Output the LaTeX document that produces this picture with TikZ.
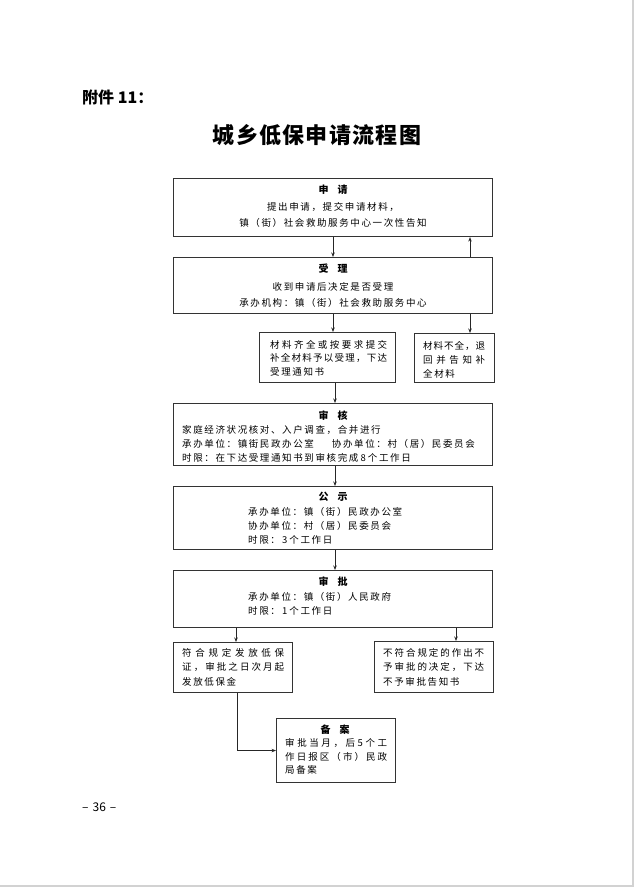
\documentclass[tikz,border=0pt]{standalone}
\usepackage{fontspec}
\setmainfont{Noto Sans CJK SC}
\usetikzlibrary{arrows.meta}
\def\gob#1{}
\def\jlloop#1#2{#1\ifx\relax#2\expandafter\gob\else\hfill\expandafter\jlloop\fi #2}
\newcommand\jl[2]{\makebox[#1pt][s]{\jlloop#2\relax}}
\newcommand\btf{\fontsize{9.5}{11}\selectfont\addfontfeature{LetterSpace=17}}
\newcommand\plf{\fontsize{9.5}{11}\selectfont}
\newcommand\hdf{\fontsize{10}{12}\selectfont\bfseries}
\newcommand\dg[1]{\makebox[9.5pt]{#1}}
\tikzset{
  box/.style={draw=black!80, line width=1.1pt, inner sep=0pt, anchor=north west},
  arr/.style={draw=black!85, line width=0.8pt, -{Stealth[length=4.5pt,width=3.5pt]}},
  tl/.style={inner sep=0pt, anchor=west, font=\btf},
  tj/.style={inner sep=0pt, anchor=west, font=\plf},
  tc/.style={inner sep=0pt, anchor=center, font=\btf},
  hd/.style={inner sep=0pt, anchor=center, font=\hdf},
}
\begin{document}
\begin{tikzpicture}[x=1pt,y=-1pt]
\fill[white] (0,0) rectangle (634,887);
\useasboundingbox (0,0) rectangle (634,887);
\fill[gray!35] (632,0) rectangle (634,887);
\fill[gray!35] (0,885) rectangle (634,887);

% header
\node[inner sep=0pt, anchor=west, font=\fontsize{16}{18}\selectfont\bfseries] (fj) at (82,97) {附件 11：};
\node[inner sep=0pt, font=\fontsize{22}{26}\selectfont\bfseries\addfontfeature{LetterSpace=6}] (tt) at (317,135) {城乡低保申请流程图};
\node[inner sep=0pt, anchor=west, font=\fontsize{12}{14}\selectfont] (pg) at (82,807) {--\hspace{4pt}36\hspace{4pt}--};

% boxes
\node[box, minimum width=319pt, minimum height=58pt] (sq) at (173,178) {};
\node[box, minimum width=319pt, minimum height=56pt] (sl) at (173,257) {};
\node[box, minimum width=136pt, minimum height=50pt] (qq) at (259,332) {};
\node[box, minimum width=80pt, minimum height=49pt] (bq) at (414,333) {};
\node[box, minimum width=319pt, minimum height=62pt] (sh) at (173,403) {};
\node[box, minimum width=319pt, minimum height=63pt] (gs) at (173,486) {};
\node[box, minimum width=319pt, minimum height=57pt] (sp) at (173,570) {};
\node[box, minimum width=119pt, minimum height=50pt] (fh) at (173,642) {};
\node[box, minimum width=119pt, minimum height=51pt] (bf) at (374,641) {};
\node[box, minimum width=119pt, minimum height=64pt] (ba) at (276,718) {};

% texts
\node[hd] (a1) at (333,190) {申\hspace{9pt}请};
\node[tc] (a2) at (333,207) {提出申请，提交申请材料，};
\node[tc] (a3) at (333,223) {镇（街）社会救助服务中心一次性告知};

\node[hd] (b1) at (333,269) {受\hspace{9pt}理};
\node[tc] (b2) at (333,287) {收到申请后决定是否受理};
\node[tc] (b3) at (333,303) {承办机构：镇（街）社会救助服务中心};

\node[tj] (c1) at (270,345) {\jl{117}{材料齐全或按要求提交}};
\node[tj] (c2) at (270,358) {\jl{117}{补全材料予以受理，下达}};
\node[tl] (c3) at (270,372) {受理通知书};

\node[tj] (d1) at (423,346) {\jl{62}{材料不全，退}};
\node[tj] (d2) at (423,360) {\jl{62}{回并告知补}};
\node[tl] (d3) at (423,374) {全材料};

\node[hd] (e1) at (333,416) {审\hspace{9pt}核};
\node[tl] (e2) at (182,430) {家庭经济状况核对、入户调查，合并进行};
\node[tl] (e3) at (182,444) {承办单位：镇街民政办公室\hspace{18pt}协办单位：村（居）民委员会};
\node[tl] (e4) at (182,458) {时限：在下达受理通知书到审核完成\dg{8}个工作日};

\node[hd] (f1) at (333,497) {公\hspace{9pt}示};
\node[tl] (f2) at (248,512) {承办单位：镇（街）民政办公室};
\node[tl] (f3) at (248,526) {协办单位：村（居）民委员会};
\node[tl] (f4) at (248,540) {时限：\dg{3}个工作日};

\node[hd] (g1) at (333,582) {审\hspace{9pt}批};
\node[tl] (g2) at (248,597) {承办单位：镇（街）人民政府};
\node[tl] (g3) at (248,611) {时限：\dg{1}个工作日};

\node[tj] (h1) at (182,653) {\jl{102}{符合规定发放低保}};
\node[tj] (h2) at (182,667) {\jl{102}{证，审批之日次月起}};
\node[tl] (h3) at (182,682) {发放低保金};

\node[tj] (i1) at (383,653) {\jl{101}{不符合规定的作出不}};
\node[tj] (i2) at (383,667) {\jl{101}{予审批的决定，下达}};
\node[tl] (i3) at (383,682) {不予审批告知书};

\node[hd] (k1) at (335,730) {备\hspace{9pt}案};
\node[tj] (k2) at (285,743) {\jl{102}{审批当月，后5个工}};
\node[tj] (k3) at (285,757) {\jl{102}{作日报区（市）民政}};
\node[tl] (k4) at (285,770) {局备案};

% connectors
\coordinate (x333) at (333,0);
\coordinate (x335) at (335,0);
\coordinate (x470) at (470,0);
\coordinate (x236) at (236,0);
\coordinate (x237) at (237,0);
\coordinate (x456) at (456,0);
\draw[arr] (sq.south -| x333) -- (sl.north -| x333);
\draw[arr] (sl.north -| x470) -- (sq.south -| x470);
\draw[arr] (sl.south -| x470) -- (bq.north -| x470);
\draw[arr] (sl.south -| x333) -- (qq.north -| x333);
\draw[arr] (qq.south -| x335) -- (sh.north -| x335);
\draw[arr] (sh.south -| x335) -- (gs.north -| x335);
\draw[arr] (gs.south -| x335) -- (sp.north -| x335);
\draw[arr] (sp.south -| x236) -- (fh.north -| x236);
\draw[arr] (sp.south -| x456) -- (bf.north -| x456);
\draw[arr] (fh.south -| x237) |- (ba.west);
\end{tikzpicture}
\end{document}
